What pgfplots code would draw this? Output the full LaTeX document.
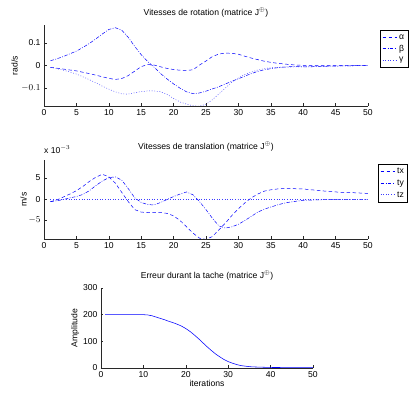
\documentclass[border=0pt]{standalone}
\usepackage{fontspec}
\setmainfont{Liberation Sans}
\usepackage{pgfplots}
\pgfplotsset{compat=1.18}
\definecolor{mba}{RGB}{0,0,255}
\definecolor{mbb}{RGB}{1,0,254}
\definecolor{mbc}{RGB}{60,60,255}
\definecolor{ax}{RGB}{40,40,40}

\begin{document}
\begin{tikzpicture}
\path[use as bounding box] (0pt,0pt) rectangle (416pt,394pt);
\pgfplotsset{
  mystyle/.style={
    scale only axis,
    font=\fontsize{8.6}{10}\selectfont,
    axis x line*=bottom, axis y line*=left,
    tick align=inside,
    /pgf/number format/assume math mode=true,
    xmin=0, xmax=50,
    axis line style={line width=0.5pt, draw=ax},
    tick style={line width=0.4pt, draw=ax},
    major tick length=2.5pt,
    title style={yshift=-2pt},
    legend style={draw=black, line width=0.8pt, font=\fontsize{8.6}{10}\selectfont,
      cells={anchor=west}, inner xsep=2pt, inner ysep=2pt, row sep=0.5pt},
    legend image code/.code={\draw[line width=0.5pt, yshift=0.3pt] plot coordinates {(0cm,0cm) (0.5cm,0cm)};},
    legend cell align=left,
  },
  pa/.style={color=mba, line width=0.5pt, dash pattern=on 3.5pt off 2.5pt},
  pb/.style={color=mbb, line width=0.5pt, dash pattern=on 3.5pt off 1.5pt on 0.8pt off 1.5pt},
  pc/.style={color=mbc, line width=0.5pt, dash pattern=on 0.8pt off 1.8pt},
}

% ---------- Top: rotation
\begin{axis}[mystyle, at={(44pt,288pt)}, anchor=south west, width=324pt, height=81pt,
  ymin=-0.18, ymax=0.18, ytick={-0.1,0,0.1},
  yticklabels={$-0.1$,0,0.1},
  xtick={0,5,...,50},
  ylabel={rad/s}, ylabel style={yshift=-3pt},
  title={Vitesses de rotation (matrice J$^{\oplus}$)},
  legend style={at={(1.037,0.938)}, anchor=north west}]
\addplot[pa] coordinates {
(1,-0.008)(2,-0.012)(3,-0.016)(4,-0.020)(5,-0.024)(6,-0.030)(7,-0.036)(8,-0.043)
(9,-0.050)(10,-0.057)(11,-0.062)(12,-0.058)(13,-0.045)(14,-0.025)(15,-0.005)
(16,0.004)(17,0.002)(18,-0.006)(19,-0.013)(20,-0.018)(21,-0.021)(22,-0.022)
(23,-0.019)(24,0.002)(25,0.020)(26,0.040)(27,0.051)(28,0.055)(29,0.054)(30,0.050)
(31,0.041)(32,0.033)(33,0.026)(34,0.019)(35,0.014)(36,0.010)(37,0.007)(38,0.004)
(39,0.002)(40,0.001)(42,0.000)(44,0.000)(46,0.000)(48,0.000)(50,0.000)};
\addlegendentry{α}
\addplot[pb] coordinates {
(1,0.021)(2,0.030)(3,0.040)(4,0.052)(5,0.064)(6,0.080)(7,0.098)(8,0.118)
(9,0.140)(10,0.160)(11,0.168)(12,0.157)(13,0.125)(14,0.085)(15,0.048)
(16,0.018)(17,-0.008)(18,-0.036)(19,-0.060)(20,-0.082)(21,-0.101)(22,-0.117)
(23,-0.125)(24,-0.122)(25,-0.114)(26,-0.104)(27,-0.094)(28,-0.082)(29,-0.070)
(30,-0.059)(31,-0.047)(32,-0.036)(33,-0.026)(34,-0.019)(35,-0.014)(36,-0.010)
(37,-0.007)(38,-0.005)(39,-0.005)(40,-0.006)(41,-0.006)(42,-0.005)(44,-0.003)
(46,-0.002)(48,-0.001)(50,-0.001)};
\addlegendentry{β}
\addplot[pc] coordinates {
(1,-0.008)(2,-0.014)(3,-0.021)(4,-0.029)(5,-0.038)(6,-0.050)(7,-0.063)(8,-0.077)
(9,-0.092)(10,-0.105)(11,-0.117)(12,-0.126)(13,-0.127)(14,-0.121)(15,-0.116)
(16,-0.113)(17,-0.113)(18,-0.117)(19,-0.128)(20,-0.147)(21,-0.162)(22,-0.172)
(23,-0.179)(24,-0.181)(25,-0.172)(26,-0.152)(27,-0.126)(28,-0.100)(29,-0.074)
(30,-0.055)(31,-0.040)(32,-0.029)(33,-0.020)(34,-0.014)(35,-0.010)(36,-0.008)
(38,-0.007)(40,-0.005)(42,-0.004)(44,-0.003)(46,-0.002)(48,-0.001)(50,-0.001)};
\addlegendentry{γ}
\end{axis}

% ---------- Middle: translation
\begin{axis}[mystyle, at={(44pt,155pt)}, anchor=south west, width=324pt, height=79pt,
  ymin=-9.5, ymax=9.3, ytick={-5,0,5},
  yticklabels={$-5$,0,5},
  xtick={0,5,...,50},
  ylabel={m/s}, ylabel style={yshift=-5pt},
  title={Vitesses de translation (matrice J$^{\oplus}$)},
  title style={yshift=1pt},
  legend style={at={(1.031,0.95)}, anchor=north west}]
\addplot[pa] coordinates {
(1,-0.6)(2,-0.2)(3,0.5)(4,1.2)(5,2.0)(6,3.0)(7,4.2)(8,5.2)(9,5.9)(10,5.3)
(11,3.8)(12,1.6)(13,-0.6)(14,-2.5)(15,-3.1)(16,-3.2)(17,-3.2)(18,-3.2)
(19,-3.4)(20,-4.0)(21,-5.1)(22,-6.6)(23,-8.1)(24,-9.3)(25,-9.6)(26,-8.9)
(27,-7.3)(28,-5.7)(29,-3.9)(30,-2.3)(31,-0.9)(32,0.3)(33,1.2)(34,1.9)
(35,2.2)(36,2.4)(37,2.5)(38,2.5)(40,2.4)(42,2.1)(44,1.8)(46,1.6)(48,1.5)(50,1.35)};
\addlegendentry{tx}
\addplot[pb] coordinates {
(1,-0.6)(2,-0.4)(3,-0.1)(4,0.3)(5,0.6)(6,1.1)(7,2.0)(8,3.2)(9,4.3)(10,5.1)
(11,5.3)(12,4.5)(13,2.5)(14,0.3)(15,-0.8)(16,-1.3)(17,-1.4)(18,-0.8)(19,-0.1)
(20,0.6)(21,1.2)(22,1.7)(23,1.0)(24,-0.6)(25,-2.5)(26,-4.6)(27,-6.4)(28,-6.9)
(29,-6.6)(30,-6.0)(31,-5.1)(32,-4.1)(33,-3.1)(34,-2.4)(35,-1.9)(36,-1.4)
(37,-1.0)(38,-0.7)(40,-0.3)(42,-0.2)(44,-0.1)(46,-0.05)(48,-0.05)(50,-0.05)};
\addlegendentry{ty}
\addplot[pc] coordinates {
(1,0.02)(10,0.02)(20,0.02)(30,0.02)(40,0.02)(50,0.02)};
\addlegendentry{tz}
\end{axis}
\node[anchor=south west, font=\fontsize{8.6}{10}\selectfont, inner sep=0pt] at (44pt,240pt) {x 10$^{-3}$};

% ---------- Bottom: error
\begin{axis}[mystyle, at={(101pt,26pt)}, anchor=south west, width=212pt, height=80pt,
  ymin=0, ymax=300, ytick={0,100,200,300},
  xtick={0,10,...,50},
  xlabel={iterations}, xlabel style={yshift=4pt},
  ylabel={Amplitude}, ylabel style={yshift=-3pt},
  title={Erreur durant la tache (matrice J$^{\oplus}$)}]
\addplot[color=mba, line width=0.55pt, solid] coordinates {
(1,200)(2,200)(4,200)(6,200)(8,200)(10,200)(11,199)(12,196)(13,191)(14,186)
(15,181)(16,175)(17,170)(18,164)(19,157)(20,148)(21,137)(22,124)(23,110)
(24,95)(25,80)(26,66)(27,53)(28,42)(29,32)(30,24)(31,18)(32,13)(33,9)
(34,7)(35,5)(36,4)(38,3)(40,2)(45,1.5)(50,1)};
\end{axis}
\end{tikzpicture}
\end{document}
